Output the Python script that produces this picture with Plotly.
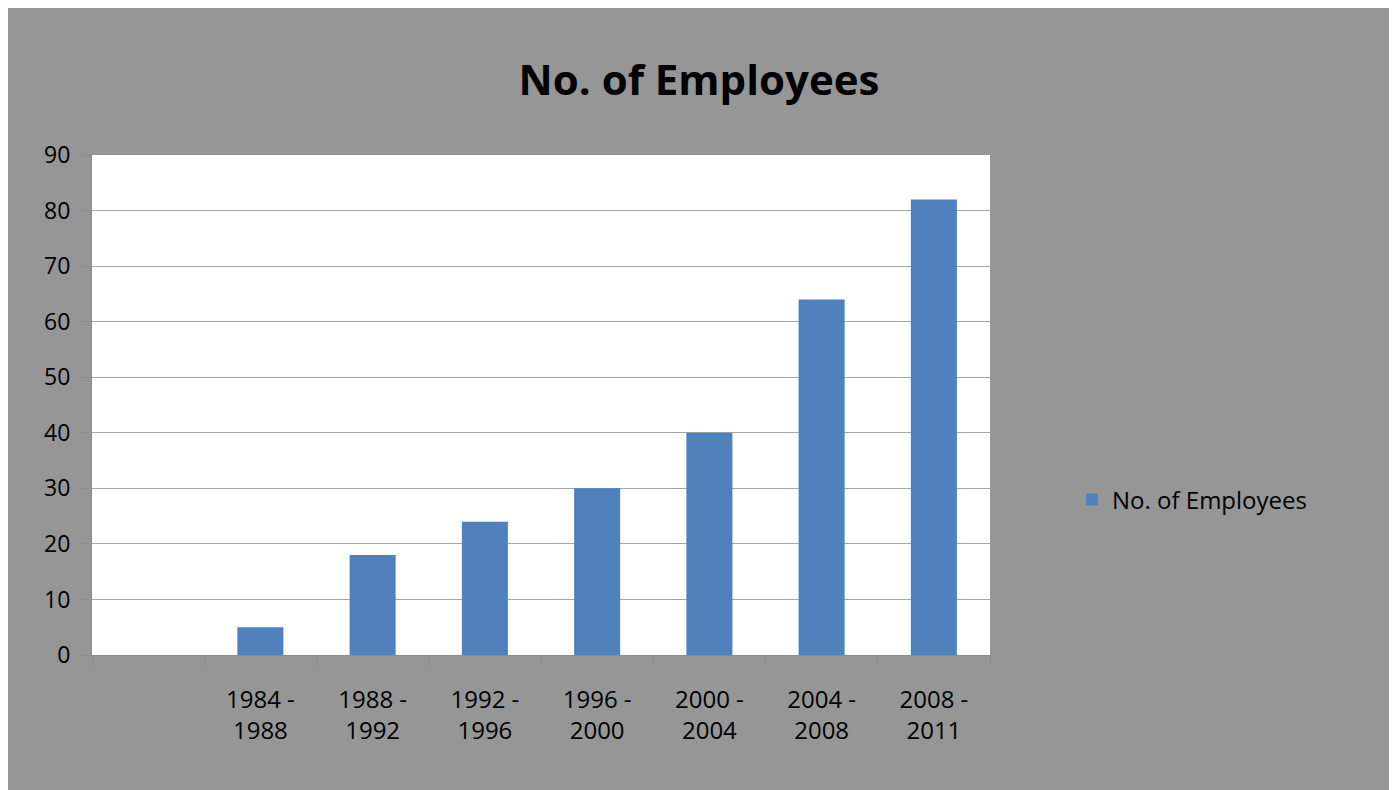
import plotly.graph_objects as go

categories = [" ", "1984 -<br>1988", "1988 -<br>1992", "1992 -<br>1996", "1996 -<br>2000",
              "2000 -<br>2004", "2004 -<br>2008", "2008 -<br>2011"]
employees = [None, 5, 18, 24, 30, 40, 64, 82]
series_name = "No. of Employees"
y_ticks = [0, 10, 20, 30, 40, 50, 60, 70, 80, 90]

W, H = 1397, 790
L, T = 84, 147
PW, PH = 898, 500
R = W - L - PW
B = H - T - PH
GRAY = "#969696"
FONT = "Open Sans"

fig = go.Figure()
fig.add_trace(go.Bar(x=categories, y=employees, name=series_name,
                     marker=dict(color="#4F81BD", line=dict(width=0)),
                     showlegend=True))

fig.update_layout(
    width=W, height=H,
    margin=dict(l=L, r=R, t=T, b=B, pad=0),
    paper_bgcolor=GRAY,
    plot_bgcolor="white",
    bargap=0.59,
    title=dict(text="<b>No. of Employees</b>", x=691 / W, xref="container", xanchor="center",
               y=1 - 72 / H, yref="container", yanchor="middle",
               font=dict(family=FONT, size=42, color="black")),
    font=dict(family=FONT, color="black"),
    showlegend=True,
    legend=dict(x=(1064 - L) / PW, xanchor="left", y=(T + PH - 492) / PH, yanchor="middle",
                bgcolor="rgba(0,0,0,0)", font=dict(family=FONT, size=24, color="black")),
    xaxis=dict(type="category", categoryorder="array", categoryarray=categories,
               showgrid=False, showline=True, linecolor="#8c8c8c", linewidth=1,
               ticks="outside", tickson="boundaries", ticklen=9, tickcolor="#8c8c8c",
               tickfont=dict(family=FONT, size=24, color="black"),
               ticklabelstandoff=23, zeroline=False),
    yaxis=dict(range=[0, 90], tickvals=y_ticks, showgrid=True, gridcolor="#a6a6a6", gridwidth=1,
               showline=True, linecolor="#8c8c8c", linewidth=1,
               ticks="outside", ticklen=10, tickcolor="#8c8c8c",
               tickfont=dict(family=FONT, size=23, color="black"),
               ticklabelstandoff=6, zeroline=False),
)

fig.write_html("out.html")
